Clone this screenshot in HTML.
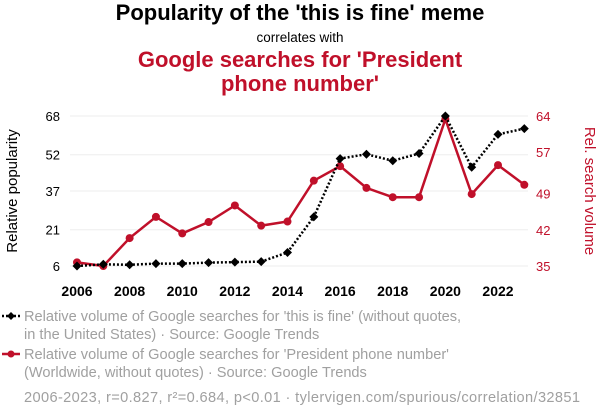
<!DOCTYPE html>
<html><head><meta charset="utf-8"><style>
body{margin:0;width:600px;height:414px;background:#fff;font-family:"Liberation Sans",sans-serif;overflow:hidden}
</style></head><body>
<svg width="600" height="414" id="svg" xmlns="http://www.w3.org/2000/svg" font-family="Liberation Sans, sans-serif">
<text x="300" y="20" text-anchor="middle" font-size="22" font-weight="bold" fill="#000">Popularity of the 'this is fine' meme</text>
<text x="300" y="42" text-anchor="middle" font-size="13.5" fill="#000">correlates with</text>
<text x="300" y="67" text-anchor="middle" font-size="22" font-weight="bold" fill="#c0102a">Google searches for 'President</text>
<text x="300" y="91" text-anchor="middle" font-size="22" font-weight="bold" fill="#c0102a">phone number'</text>
<g id="grid"></g><g id="axes"></g><g id="marks"></g>
<text transform="translate(17,191) rotate(-90)" text-anchor="middle" font-size="15" fill="#000">Relative popularity</text>
<text transform="translate(585,191) rotate(90)" text-anchor="middle" font-size="15" fill="#c0102a">Rel. search volume</text>
<g>
<line x1="2" y1="316" x2="20" y2="316" stroke="#000" stroke-width="2.5" stroke-dasharray="2,2"/><path d="M11 312 L15 316 L11 320 L7 316Z" fill="#000"/>
<text x="24" y="321" font-size="14.6" fill="#a0a0a0">Relative volume of Google searches for 'this is fine' (without quotes,</text>
<text x="24" y="339" font-size="14.6" fill="#a0a0a0">in the United States) · Source: Google Trends</text></g>
<g>
<line x1="2" y1="354" x2="20" y2="354" stroke="#c0102a" stroke-width="2.5"/><circle cx="11" cy="354" r="3.5" fill="#c0102a"/>
<text x="24" y="359" font-size="14.6" fill="#a0a0a0">Relative volume of Google searches for 'President phone number'</text>
<text x="24" y="377" font-size="14.6" fill="#a0a0a0">(Worldwide, without quotes) · Source: Google Trends</text></g>
<text x="24" y="402" font-size="14.6" fill="#a0a0a0" textLength="556" lengthAdjust="spacing">2006-2023, r=0.827, r²=0.684, p&lt;0.01 · tylervigen.com/spurious/correlation/32851</text>
</svg>
<script>
const years=[2006,2007,2008,2009,2010,2011,2012,2013,2014,2015,2016,2017,2018,2019,2020,2021,2022,2023];
const memeValues=[6,6.7,6.5,7,7,7.4,7.6,7.8,11.6,26.3,50.4,52.2,49.5,52.5,68,46.8,60.4,62.8];
const phoneValues=[35.7,35,40.4,44.5,41.3,43.5,46.7,42.8,43.6,51.5,54.3,50.1,48.3,48.3,63.4,48.9,54.5,50.7];
const leftTicks=[6,21,37,52,68];
const rightTicks=[35,42,49,57,64];
const xTicks=[2006,2008,2010,2012,2014,2016,2018,2020,2022];
const NS="http://www.w3.org/2000/svg";
const x=v=>77+(v-2006)*(498-77)/16;
const yL=v=>266-(v-6)*150/62;
const yR=v=>266-(v-35)*150/29;
function mk(t,a,p){const e=document.createElementNS(NS,t);for(const k in a)e.setAttribute(k,a[k]);document.getElementById(p).appendChild(e);return e;}
leftTicks.forEach(t=>{
 const g=mk('line',{x1:70,x2:528,y1:yL(t),y2:yL(t),stroke:'#eee','stroke-width':1},'grid');
 
 
 const l=mk('text',{x:60,y:yL(t)+5,'text-anchor':'end','font-size':13,fill:'#000'},'axes');l.textContent=t;
 
 
});
rightTicks.forEach(t=>{
 const l=mk('text',{x:536,y:yR(t)+5,'font-size':13,fill:'#c0102a'},'axes');l.textContent=t;
 
 
});
xTicks.forEach(t=>{
 const l=mk('text',{x:x(t),y:296,'text-anchor':'middle','font-size':14,'font-weight':'bold',fill:'#000'},'axes');l.textContent=t;
 
 
});
const rp=mk('polyline',{points:years.map((y,i)=>x(y)+','+yR(phoneValues[i])).join(' '),fill:'none',stroke:'#c0102a','stroke-width':2.5},'marks');


years.forEach((y,i)=>{const c=mk('circle',{cx:x(y),cy:yR(phoneValues[i]),r:4,fill:'#c0102a'},'marks');
 
 });
const bp=mk('polyline',{points:years.map((y,i)=>x(y)+','+yL(memeValues[i])).join(' '),fill:'none',stroke:'#000','stroke-width':2.5,'stroke-dasharray':'2,2'},'marks');


years.forEach((y,i)=>{const cx=x(y),cy=yL(memeValues[i]);const d=mk('path',{d:`M${cx} ${cy-4.5}L${cx+4.5} ${cy}L${cx} ${cy+4.5}L${cx-4.5} ${cy}Z`,fill:'#000'},'marks');
 
 });
</script>
</body></html>
